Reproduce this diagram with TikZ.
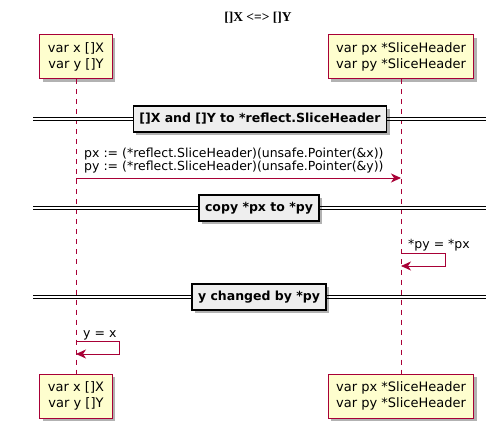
\documentclass[tikz,border=0pt]{standalone}
\usepackage{fontspec}
\setmainfont{DejaVu Sans}
\newfontfamily\titlefont{Liberation Serif}
\usetikzlibrary{arrows.meta}
\usetikzlibrary{shadows}
\definecolor{umlred}{HTML}{A80036}
\definecolor{umlyellow}{HTML}{FEFECE}
\definecolor{umlgrey}{HTML}{EEEEEE}
\tikzstyle{umlshadow}=[drop shadow={shadow xshift=3pt, shadow yshift=-3pt, fill=black, opacity=0.3}]
\tikzstyle{part}=[draw=umlred, fill=umlyellow, line width=1pt, align=center, minimum height=44pt, inner xsep=8pt, font=\fontsize{13}{16}\selectfont, umlshadow]
\tikzstyle{sepbox}=[draw=black, fill=umlgrey, line width=1.5pt, minimum height=26pt, inner xsep=6pt, font=\bfseries\fontsize{12.5}{14}\selectfont, umlshadow]
\tikzstyle{sepline}=[draw=black, line width=0.9pt, double=white, double distance=2pt]
\tikzstyle{lifeline}=[draw=umlred, line width=0.8pt, dash pattern=on 5pt off 5pt]
\tikzstyle{msg}=[draw=umlred, line width=0.9pt, -{Stealth[length=10pt, width=9pt, inset=3pt]}]
\tikzstyle{msgtext}=[inner sep=0pt, align=left, font=\fontsize{12.5}{13}\selectfont]

\begin{document}
\begin{tikzpicture}[x=1pt, y=-1pt]
    \useasboundingbox (0,0) rectangle (497,435);
    \node[font=\titlefont\bfseries\fontsize{13.5}{15}\selectfont] (title) at (258,18) {[]X <=> []Y};

    % participants
    \node[part] (xtop) at (76,57) {var x []X\\var y []Y};
    \node[part] (ptop) at (401,57) {var px *SliceHeader\\var py *SliceHeader};
    \node[part] (xbot) at (76,396) {var x []X\\var y []Y};
    \node[part] (pbot) at (401,396) {var px *SliceHeader\\var py *SliceHeader};
    \draw[lifeline] (xtop.south) -- (xbot.north);
    \draw[lifeline] (ptop.south) -- (pbot.north);

    % first separator and cast
    \coordinate (s1l) at (33,119);
    \coordinate (s1r) at (486,119);
    \draw[sepline] (s1l) -- (s1r);
    \node[sepbox] (s1) at (260,119) {[]X and []Y to *reflect.SliceHeader};
    \coordinate (m1a) at (76,178);
    \coordinate (m1b) at (401,178);
    \node[msgtext, anchor=south west] (m1txt) at (84,173)
        {px := (*reflect.SliceHeader)(unsafe.Pointer(\&x))\\py := (*reflect.SliceHeader)(unsafe.Pointer(\&y))};
    \draw[msg] (m1a) -- (m1b);

    % second separator and copy
    \coordinate (s2l) at (33,208);
    \coordinate (s2r) at (486,208);
    \draw[sepline] (s2l) -- (s2r);
    \node[sepbox] (s2) at (259,208) {copy *px to *py};
    \coordinate (m2a) at (401,253);
    \coordinate (m2b) at (401,266);
    \node[msgtext, anchor=base west] (m2txt) at (408,249) {*py = *px};
    \draw[msg] (m2a) -- ++(44,0) -- ++(0,13) -- (m2b);

    % third separator and result
    \coordinate (s3l) at (33,297);
    \coordinate (s3r) at (486,297);
    \draw[sepline] (s3l) -- (s3r);
    \node[sepbox] (s3) at (259,297) {y changed by *py};
    \coordinate (m3a) at (76,341);
    \coordinate (m3b) at (76,354);
    \node[msgtext, anchor=base west] (m3txt) at (83,337) {y = x};
    \draw[msg] (m3a) -- ++(43,0) -- ++(0,13) -- (m3b);
\end{tikzpicture}
\end{document}
